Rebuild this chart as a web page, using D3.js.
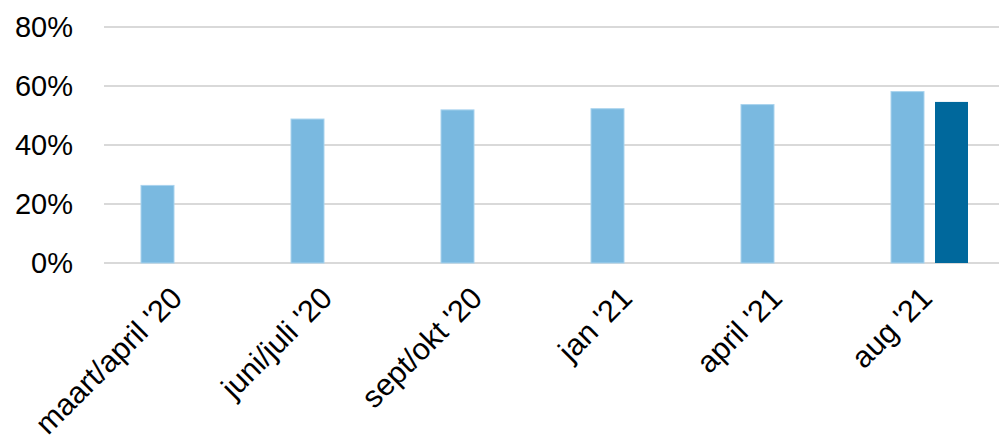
<!DOCTYPE html>
<html lang="nl">
<head>
<meta charset="utf-8">
<title>Percentage per meting</title>
<script src="https://d3js.org/d3.v7.min.js"></script>
<style>
body { margin: 0; background: #fff; }
text { font-family: Arial, "Liberation Sans", sans-serif; fill: #000; }
.grid line { stroke: #d9d9d9; stroke-width: 2px; }
</style>
</head>
<body>
<svg width="999" height="443"></svg>
<script>
var categories = ["maart/april '20", "juni/juli '20", "sept/okt '20", "jan '21", "april '21", "aug '21"];
var series1 = [26.3, 48.8, 51.9, 52.3, 53.7, 58.1];
var series2 = [null, null, null, null, null, 54.6];
var yTicks = [0, 20, 40, 60, 80];

var colors = ["#7ab9e0", "#00689c"];

var svg = d3.select("svg");
var mLeft = 104, mRight = 1004, mTop = 27, mBottom = 263;

var x = d3.scaleBand().domain(categories).range([mLeft, mRight]).paddingInner(0).paddingOuter(0);
var xs = d3.scaleBand().domain([0, 1]).range([37, 114]).paddingInner(0.25);
var y = d3.scaleLinear().domain([0, 80]).range([mBottom, mTop]);

// gridlines
svg.append("g").attr("class", "grid")
  .selectAll("line").data(yTicks).enter().append("line")
  .attr("x1", mLeft).attr("x2", 999)
  .attr("y1", function(d) { return y(d); })
  .attr("y2", function(d) { return y(d); });

// y labels
svg.append("g").selectAll("text").data(yTicks).enter().append("text")
  .attr("x", 73).attr("y", function(d) { return y(d) + 10; })
  .attr("text-anchor", "end").attr("font-size", 29)
  .text(function(d) { return d + "%"; });

// bars
[series1, series2].forEach(function(s, si) {
  svg.append("g").selectAll("rect")
    .data(categories.map(function(c, i) { return {c: c, v: s[i]}; }).filter(function(d) { return d.v != null; }))
    .enter().append("rect")
    .attr("x", function(d) { return x(d.c) + xs(si); })
    .attr("width", xs.bandwidth())
    .attr("y", function(d) { return y(d.v); })
    .attr("height", function(d) { return y(0) - y(d.v); })
    .attr("fill", colors[si])
    .attr("stroke", si == 0 ? "#a9d3ee" : "none")
    .attr("stroke-width", 1);
});

// x labels
svg.append("g").selectAll("text").data(categories).enter().append("text")
  .attr("text-anchor", "end").attr("font-size", 30.5)
  .attr("transform", function(d) {
    return "translate(" + (x(d) + x.bandwidth() / 2 + 5) + ",300) rotate(-45)";
  })
  .text(function(d) { return d; });
</script>
</body>
</html>
